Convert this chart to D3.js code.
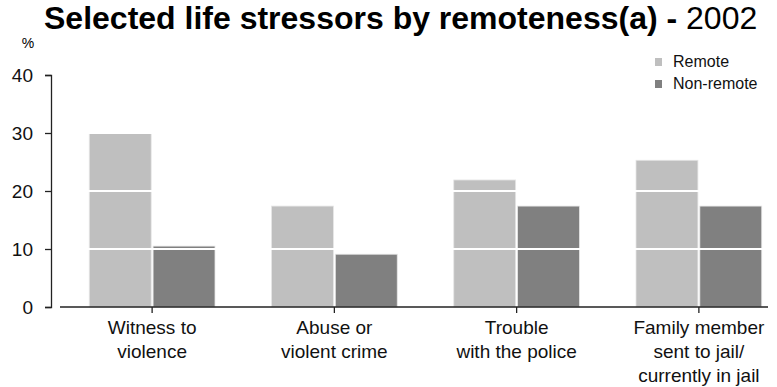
<!DOCTYPE html>
<html>
<head>
<meta charset="utf-8">
<script src="https://cdn.jsdelivr.net/npm/d3@7"></script>
<style>
  body { margin: 0; background: #fff; }
  svg { display: block; font-family: "Liberation Sans", Arial, sans-serif; }
</style>
</head>
<body>
<div id="chart"></div>
<script>
// data
const categories = [
  ["Witness to", "violence"],
  ["Abuse or", "violent crime"],
  ["Trouble", "with the police"],
  ["Family member", "sent to jail/", "currently in jail"]
];
const seriesNames = ["Remote", "Non-remote"];
const remote = [29.9, 17.4, 21.9, 25.3];
const nonRemote = [10.5, 9.1, 17.4, 17.4];
const yTicks = [0, 10, 20, 30, 40];

const colors = {"Remote": "#bfbfbf", "Non-remote": "#808080"};

const width = 777, height = 387;

const svg = d3.select("#chart").append("svg")
  .attr("width", width)
  .attr("height", height);

// title
const title = svg.append("text")
  .attr("x", 44)
  .attr("y", 29)
  .style("font-size", "32px")
  .style("fill", "#000");
title.append("tspan").style("font-weight", "bold").text("Selected life stressors by remoteness(a) - ");
title.append("tspan").text("2002");

const keys = categories.map((c, i) => i);

const x0 = d3.scaleBand()
  .domain(keys)
  .range([61, 790])
  .paddingInner(0.31)
  .paddingOuter(0.155);

const x1 = d3.scaleBand()
  .domain(seriesNames)
  .range([0, x0.bandwidth()])
  .paddingInner(0.03);

const y = d3.scaleLinear()
  .domain([0, 40])
  .range([307, 75]);

const rows = keys.map(i => ({key: i, values: [
  {name: "Remote", value: remote[i]},
  {name: "Non-remote", value: nonRemote[i]}
]}));

// bars
const groups = svg.append("g").selectAll("g")
  .data(rows)
  .join("g")
  .attr("transform", d => `translate(${x0(d.key)},0)`);

groups.selectAll("rect")
  .data(d => d.values)
  .join("rect")
  .attr("x", d => x1(d.name))
  .attr("y", d => y(d.value))
  .attr("width", x1.bandwidth())
  .attr("height", d => y(0) - y(d.value))
  .attr("fill", d => colors[d.name])
  .attr("stroke", "#e6e6e6")
  .attr("stroke-width", 0.8);

// white gridlines over the bars
svg.append("g").selectAll("line")
  .data(yTicks.filter(t => t > 0 && t < 40))
  .join("line")
  .attr("x1", 60)
  .attr("x2", 770)
  .attr("y1", d => y(d))
  .attr("y2", d => y(d))
  .attr("stroke", "#fff")
  .attr("stroke-width", 2);

// y axis
const yAxis = svg.append("g")
  .attr("transform", "translate(51,0)")
  .call(d3.axisLeft(y).tickValues(yTicks).tickSizeInner(6).tickSizeOuter(6).tickPadding(12));
yAxis.select(".domain").attr("stroke", "#222").attr("stroke-width", 1.3);
yAxis.selectAll(".tick line").attr("stroke", "#222").attr("stroke-width", 1.3);
yAxis.selectAll(".tick text")
  .style("font-size", "19px")
  .style("font-family", "Liberation Sans, Arial, sans-serif")
  .attr("fill", "#111");

svg.append("text")
  .attr("x", 28)
  .attr("y", 48)
  .attr("text-anchor", "middle")
  .style("font-size", "14px")
  .text("%");

// x axis
const xAxis = svg.append("g")
  .attr("transform", "translate(0,307)")
  .call(d3.axisBottom(x0).tickSizeInner(6).tickSizeOuter(0).tickFormat(""));
xAxis.select(".domain").remove();
xAxis.selectAll(".tick line").attr("stroke", "#222").attr("stroke-width", 1.3);
xAxis.append("line")
  .attr("x1", 60)
  .attr("x2", 768)
  .attr("stroke", "#222")
  .attr("stroke-width", 1.5);

xAxis.selectAll(".tick text").remove();
xAxis.selectAll(".tick").append("text")
  .attr("text-anchor", "middle")
  .style("font-size", "19px")
  .style("font-family", "Liberation Sans, Arial, sans-serif")
  .attr("fill", "#111")
  .selectAll("tspan")
  .data(d => categories[d])
  .join("tspan")
  .attr("x", 0)
  .attr("y", (d, i) => 27 + i * 24)
  .text(d => d);

// legend
const legend = svg.append("g").selectAll("g")
  .data(seriesNames)
  .join("g")
  .attr("transform", (d, i) => `translate(655,${58 + i * 22})`);

legend.append("rect")
  .attr("width", 7)
  .attr("height", 8)
  .attr("fill", d => colors[d]);

legend.append("text")
  .attr("x", 18)
  .attr("y", 9)
  .style("font-size", "16px")
  .attr("fill", "#111")
  .text(d => d);
</script>
</body>
</html>
